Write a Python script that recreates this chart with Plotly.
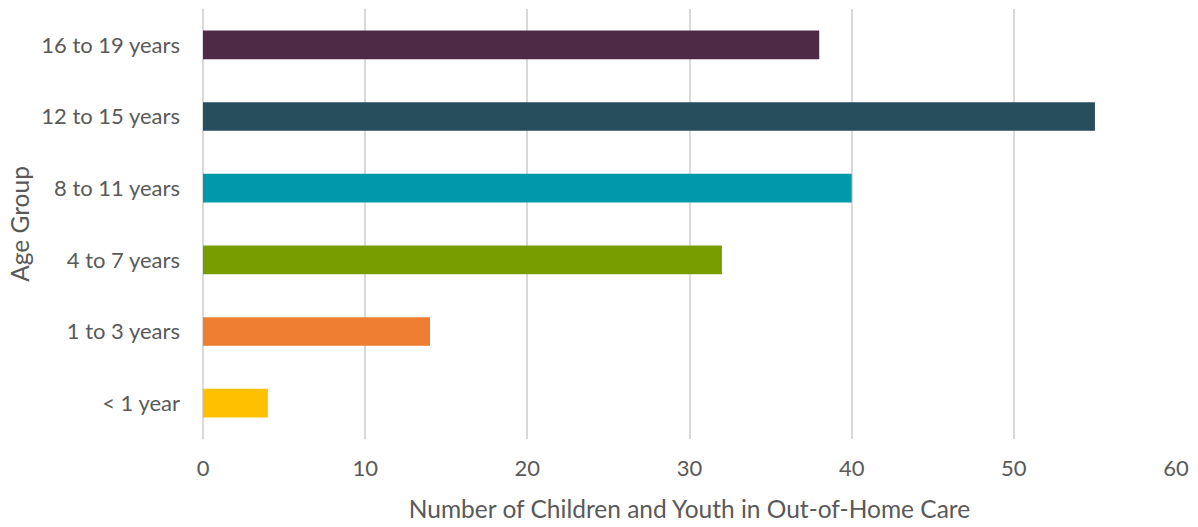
import plotly.graph_objects as go

categories = ["< 1 year", "1 to 3 years", "4 to 7 years", "8 to 11 years", "12 to 15 years", "16 to 19 years"]
values = [4, 14, 32, 40, 55, 38]
colors = ["#FFC000", "#ED7D31", "#789D00", "#0099AB", "#264E5C", "#4E2A47"]
x_ticks = [0, 10, 20, 30, 40, 50, 60]

FONT = "Lato"
GRAY = "#595959"

fig = go.Figure(go.Bar(
    y=categories, x=values, orientation="h",
    marker=dict(color=colors, line=dict(width=0)),
    hoverinfo="x+y",
))

fig.update_layout(
    width=1198, height=527,
    margin=dict(l=203, r=19, t=9, b=84),
    paper_bgcolor="white", plot_bgcolor="white",
    bargap=0.6,
    showlegend=False,
    font=dict(family=FONT, color=GRAY, size=22),
    xaxis=dict(
        range=[0, 60], tickvals=x_ticks, ticktext=[str(t) for t in x_ticks],
        showgrid=True, gridcolor="#D9D9D9", gridwidth=1.5,
        zeroline=True, zerolinecolor="#D9D9D9", zerolinewidth=1.5,
        showline=False, ticks="", ticklabelstandoff=14,
        tickfont=dict(size=22, color=GRAY, family=FONT),
        title=dict(text="Number of Children and Youth in Out-of-Home Care",
                   font=dict(size=24.5, color=GRAY, family=FONT), standoff=20),
    ),
    yaxis=dict(
        categoryorder="array", categoryarray=categories,
        showgrid=False, zeroline=False, showline=False, ticks="",
        ticklabelstandoff=22,
        tickfont=dict(size=22, color=GRAY, family=FONT),
        title=dict(text="Age Group", font=dict(size=24.5, color=GRAY, family=FONT), standoff=4),
    ),
)

fig.write_html("out.html")
